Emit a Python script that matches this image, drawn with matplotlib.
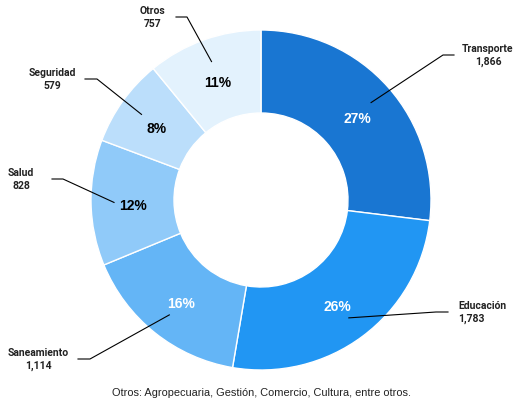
import numpy as np
import matplotlib
matplotlib.use('Agg')
import matplotlib.pyplot as plt
from matplotlib import font_manager

# Data
categories = ['Transporte', 'Educación', 'Saneamiento', 'Salud', 'Seguridad', 'Otros']
values = [1866, 1783, 1114, 828, 579, 757]
value_labels = ['1,866', '1,783', '1,114', '828', '579', '757']
colors = ['#1976D2', '#2196F3', '#64B5F6', '#90CAF9', '#BBDEFB', '#E3F2FD']
pct_colors = ['white', 'white', 'white', 'black', 'black', 'black']
footer = 'Otros: Agropecuaria, Gestión, Comercio, Cultura, entre otros.'

W, H = 513, 403
fig = plt.figure(figsize=(W / 100, H / 100), dpi=100)
ax = fig.add_axes([0, 0, 1, 1])

cx, cy = 261, H - 200
r_out, ring = 170, 83

wedges, _ = ax.pie(values, colors=colors, startangle=90, counterclock=False,
                   center=(cx, cy), radius=r_out, frame=True,
                   wedgeprops=dict(width=ring, edgecolor='white', linewidth=1))
ax.set_xlim(0, W)
ax.set_ylim(0, H)
ax.set_aspect('equal')
ax.axis('off')

names = {f.name for f in font_manager.fontManager.ttflist}
narrow = 'Liberation Sans Narrow' if 'Liberation Sans Narrow' in names else 'Liberation Sans'
foot_size = 9 if narrow == 'Liberation Sans Narrow' else 7.9

# label layout (pixels from top-left): elbow x, end x, line y, text x, alignment
layout = [
    (443, 454, 55, 488, 'center'),
    (436, 448, 312, 458, 'left'),
    (90, 78, 359, 38, 'center'),
    (63, 52, 179, 21, 'center'),
    (97, 85, 79, 52, 'center'),
    (187, 176, 17, 153, 'center'),
]

for w, name, vlab, pc, lay in zip(wedges, categories, value_labels, pct_colors, layout):
    mid = np.deg2rad((w.theta1 + w.theta2) / 2)
    r_mid = r_out - ring / 2
    pct = (w.theta2 - w.theta1) / 360 * 100
    ax.text(cx + r_mid * np.cos(mid), cy + r_mid * np.sin(mid) - 4, f'{pct:.0f}%',
            ha='center', va='center', color=pc, fontsize=10, fontweight='bold',
            family='Liberation Sans')
    sx, sy = cx + 147 * np.cos(mid), cy + 147 * np.sin(mid)
    ex, endx, ly, tx, ha = lay
    ax.plot([sx, ex, endx], [sy, H - ly, H - ly], color='black', lw=0.8)
    ax.text(tx, H - ly + 6, name, ha=ha, va='center', fontsize=7.5,
            fontweight='bold', family='Roboto', color='#222222')
    ax.text(tx, H - ly - 7, vlab, ha=ha, va='center', fontsize=7.5,
            fontweight='bold', family='Roboto', color='#222222')

ax.text(cx, H - 393, footer, ha='center', va='center', fontsize=foot_size,
        family=narrow, color='#222222')

fig.savefig('out.png', dpi=100)
